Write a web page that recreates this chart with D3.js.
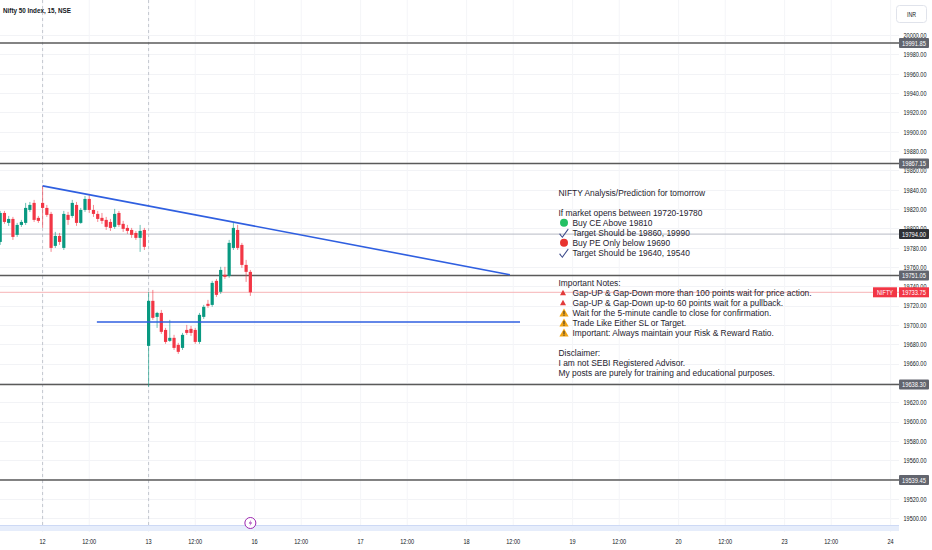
<!DOCTYPE html>
<html>
<head>
<meta charset="utf-8">
<script src="https://cdn.jsdelivr.net/npm/d3@7"></script>
<style>
  body { margin: 0; background: #fff; }
  svg { display: block; font-family: "Liberation Sans", Arial, sans-serif; }
</style>
</head>
<body>
<svg id="chart" width="932" height="550"></svg>
<script>
// candles as [open, high, low, close], 15 min bars
const day11 = [
  [19785.9, 19818.0, 19782.8, 19815.9],
  [19815.9, 19818.0, 19804.6, 19806.6],
  [19805.6, 19812.8, 19802.5, 19809.7],
  [19809.7, 19811.8, 19788.0, 19791.1],
  [19793.2, 19805.6, 19791.1, 19803.5],
  [19803.5, 19808.7, 19801.5, 19806.6],
  [19805.6, 19826.3, 19803.5, 19821.1],
  [19819.0, 19827.3, 19817.0, 19824.2],
  [19826.3, 19829.4, 19806.6, 19808.7],
  [19810.8, 19812.8, 19805.6, 19807.7]
]
const day12 = [
  [19826.3, 19843.9, 19800.4, 19821.1],
  [19821.1, 19824.2, 19811.8, 19813.9],
  [19814.9, 19817.0, 19775.6, 19779.7],
  [19781.8, 19796.3, 19779.7, 19792.1],
  [19792.1, 19795.2, 19782.8, 19785.9],
  [19779.7, 19818.0, 19777.6, 19814.9],
  [19813.9, 19817.0, 19803.5, 19808.7],
  [19812.8, 19829.4, 19810.8, 19826.3],
  [19824.2, 19827.3, 19802.5, 19805.6],
  [19805.6, 19821.1, 19804.6, 19819.0],
  [19819.0, 19833.5, 19817.0, 19830.4],
  [19830.4, 19835.6, 19815.9, 19819.0],
  [19819.0, 19824.2, 19811.8, 19814.9],
  [19814.9, 19818.0, 19806.6, 19809.7],
  [19810.8, 19815.9, 19804.6, 19807.7],
  [19808.7, 19811.8, 19798.3, 19801.5],
  [19806.6, 19809.7, 19797.3, 19800.4],
  [19801.5, 19820.1, 19799.4, 19814.9],
  [19815.9, 19818.0, 19801.5, 19803.5],
  [19804.6, 19807.7, 19796.3, 19799.4],
  [19800.4, 19803.5, 19794.2, 19797.3],
  [19798.3, 19800.4, 19790.1, 19793.2],
  [19795.2, 19797.3, 19788.0, 19790.1],
  [19790.1, 19803.5, 19775.6, 19797.3],
  [19798.3, 19800.4, 19777.6, 19780.8]
]
const day13 = [
  [19678.3, 19734.2, 19635.9, 19724.9],
  [19724.9, 19736.2, 19705.2, 19707.3],
  [19708.3, 19713.5, 19696.9, 19712.4],
  [19712.4, 19715.5, 19690.7, 19692.8],
  [19694.8, 19696.9, 19680.4, 19682.4],
  [19683.5, 19705.2, 19682.4, 19686.6],
  [19686.6, 19689.7, 19674.1, 19676.2],
  [19679.3, 19681.4, 19670.0, 19672.1],
  [19676.2, 19691.7, 19674.1, 19689.7],
  [19694.8, 19700.0, 19689.7, 19691.7],
  [19695.9, 19699.0, 19688.6, 19691.7],
  [19694.8, 19696.9, 19680.4, 19682.4],
  [19682.4, 19712.4, 19680.4, 19710.4],
  [19708.3, 19720.7, 19706.2, 19718.7],
  [19721.8, 19725.9, 19717.6, 19719.7],
  [19720.7, 19745.6, 19718.7, 19743.5],
  [19745.6, 19747.6, 19729.0, 19731.1],
  [19734.2, 19760.1, 19732.1, 19756.9],
  [19751.8, 19760.1, 19747.6, 19749.7],
  [19750.7, 19788.0, 19748.7, 19784.9],
  [19779.7, 19805.6, 19777.6, 19800.4],
  [19798.3, 19803.5, 19777.6, 19779.7],
  [19782.8, 19784.9, 19759.0, 19762.1],
  [19762.1, 19767.3, 19744.5, 19754.9],
  [19754.9, 19756.9, 19730.0, 19733.75]
]

const dayLabels = ['12', '13', '16', '17', '18', '19', '20', '23', '24']
const barsPerDay = 25
const noonBar = 11

const levelPrices = [19991.85, 19867.15, 19751.05, 19638.30, 19539.45]
const refLevel = 19794.00
const lastPrice = 19733.75

// drawings: [bar index, price]
const trendLine = [[0, 19843.9], [110.2, 19752.0]]
const supportLine = [[12.8, 19703.0], [112.6, 19703.0]]

const notes = [
  { icon: null, text: 'NIFTY Analysis/Prediction for tomorrow' },
  null,
  { icon: null, text: 'If market opens between 19720-19780' },
  { icon: 'green', text: 'Buy CE Above 19810' },
  { icon: 'check', text: 'Target Should be 19860, 19990' },
  { icon: 'red', text: 'Buy PE Only below 19690' },
  { icon: 'check', text: 'Target Should be 19640, 19540' },
  null,
  null,
  { icon: null, text: 'Important Notes:' },
  { icon: 'tri', text: 'Gap-UP & Gap-Down more than 100 points wait for price action.' },
  { icon: 'tri', text: 'Gap-UP & Gap-Down up-to 60 points wait for a pullback.' },
  { icon: 'warn', text: 'Wait for the 5-minute candle to close for confirmation.' },
  { icon: 'warn', text: 'Trade Like Either SL or Target.' },
  { icon: 'warn', text: 'Important: Always maintain your Risk & Reward Ratio.' },
  null,
  { icon: null, text: 'Disclaimer:' },
  { icon: null, text: 'I am not SEBI Registered Advisor.' },
  { icon: null, text: 'My posts are purely for training and educational purposes.' }
]

const W = 932, H = 550
const plotRight = 899
const upColor = '#089981', downColor = '#f23645'

const candles = [...day11, ...day12, ...day13].map((d, i) => ({
  idx: i - day11.length, o: d[0], h: d[1], l: d[2], c: d[3]
}))

const x = d3.scaleLinear().domain([-10, 200]).range([0.2, 890.6])
const y = d3.scaleLinear().domain([19500, 20000]).range([518.1, 35.1])

const svg = d3.select('#chart')
svg.append('rect').attr('width', W).attr('height', H).attr('fill', '#fff')

// horizontal grid
const yTicks = d3.range(19500, 20001, 20)
svg.append('g')
  .selectAll('line')
  .data(yTicks)
  .enter()
  .append('line')
  .attr('x1', 0).attr('x2', plotRight)
  .attr('y1', d => Math.round(y(d)) + 0.5).attr('y2', d => Math.round(y(d)) + 0.5)
  .attr('stroke', '#f2f3f6')

// x ticks: days and 12:00
const xTicks = []
dayLabels.forEach((lab, k) => {
  xTicks.push({ idx: k * barsPerDay, label: lab })
  if (k < dayLabels.length - 1) xTicks.push({ idx: k * barsPerDay + noonBar, label: '12:00' })
})

svg.append('g')
  .selectAll('line')
  .data(xTicks)
  .enter()
  .append('line')
  .attr('x1', d => x(d.idx)).attr('x2', d => x(d.idx))
  .attr('y1', 0).attr('y2', 532)
  .attr('stroke', '#f4f5f8')

// session breaks
svg.append('g')
  .selectAll('line')
  .data([0, barsPerDay])
  .enter()
  .append('line')
  .attr('x1', d => x(d)).attr('x2', d => x(d))
  .attr('y1', 0).attr('y2', 532)
  .attr('stroke', '#c3c6ce')
  .attr('stroke-dasharray', '3,3')

// bottom event band
svg.append('rect')
  .attr('x', 0).attr('y', 525).attr('width', plotRight).attr('height', 6)
  .attr('fill', '#e6edfb')
svg.append('line')
  .attr('x1', 0).attr('x2', plotRight).attr('y1', 525.5).attr('y2', 525.5)
  .attr('stroke', '#cdd9f5')

// reference level (thin) and current price line
svg.append('line')
  .attr('x1', 0).attr('x2', plotRight)
  .attr('y1', y(refLevel)).attr('y2', y(refLevel))
  .attr('stroke', '#b8bbc4').attr('stroke-width', 1)
svg.append('line')
  .attr('x1', 0).attr('x2', plotRight)
  .attr('y1', y(lastPrice)).attr('y2', y(lastPrice))
  .attr('stroke', '#f7b3b6').attr('stroke-width', 1)

// key levels
svg.append('g')
  .selectAll('line')
  .data(levelPrices)
  .enter()
  .append('line')
  .attr('x1', 0).attr('x2', plotRight)
  .attr('y1', d => y(d)).attr('y2', d => y(d))
  .attr('stroke', '#5a5a5a').attr('stroke-width', 1.5)

// candles
const cg = svg.append('g')
cg.selectAll('line')
  .data(candles)
  .enter()
  .append('line')
  .attr('x1', d => x(d.idx)).attr('x2', d => x(d.idx))
  .attr('y1', d => y(d.h)).attr('y2', d => y(d.l))
  .attr('stroke', d => d.c >= d.o ? upColor : downColor)
  .attr('stroke-opacity', 0.75)
  .attr('stroke-width', 0.8)
cg.selectAll('rect')
  .data(candles)
  .enter()
  .append('rect')
  .attr('x', d => x(d.idx) - 1.6)
  .attr('width', 3.2)
  .attr('y', d => y(Math.max(d.o, d.c)))
  .attr('height', d => Math.max(1, Math.abs(y(d.o) - y(d.c))))
  .attr('fill', d => d.c >= d.o ? upColor : downColor)

// drawings
const line = d3.line().x(d => x(d[0])).y(d => y(d[1]))
svg.append('path').attr('d', line(trendLine))
  .attr('fill', 'none').attr('stroke', '#2f5fe0').attr('stroke-width', 1.6)
svg.append('path').attr('d', line(supportLine))
  .attr('fill', 'none').attr('stroke', '#2f5fe0').attr('stroke-width', 1.6)

// event marker
const ev = svg.append('g').attr('transform', `translate(${x(49)},523)`)
ev.append('circle').attr('r', 5.5).attr('fill', '#fff').attr('stroke', '#9c27b0').attr('stroke-width', 1)
ev.append('path').attr('d', 'M1,-3.5 L-1.6,0.4 L0.4,0.4 L-1,3.5 L1.8,-0.6 L-0.2,-0.6 Z')
  .attr('fill', '#9c27b0')

// right price axis (labels squeezed like the narrow UI font)
const yAxis = d3.axisRight(y).tickValues(yTicks).tickSize(0).tickPadding(0)
  .tickFormat(d3.format('.2f'))
const ya = svg.append('g').attr('transform', 'translate(903.5,0)').call(yAxis)
ya.select('.domain').remove()
ya.selectAll('text')
  .attr('x', 0)
  .attr('transform', 'scale(0.735,1)')
  .attr('font-size', 7.5).attr('fill', '#131722')
  .attr('font-family', '"Liberation Sans", Arial, sans-serif')

// level tags
const tags = levelPrices.map(p => ({ p, fill: '#62656e' }))
tags.push({ p: refLevel, fill: '#2f3136' })
const tg = svg.append('g')
  .selectAll('g')
  .data(tags)
  .enter()
  .append('g')
  .attr('transform', d => `translate(899,${y(d.p)})`)
tg.append('rect').attr('x', 0).attr('y', -5).attr('width', 30).attr('height', 10).attr('rx', 1)
  .attr('fill', d => d.fill)
tg.append('text')
  .attr('transform', 'translate(15,2.6) scale(0.767,1)')
  .attr('text-anchor', 'middle')
  .attr('font-size', 7.5).attr('fill', '#fff')
  .text(d => d3.format('.2f')(d.p))

// current price tag
const cp = svg.append('g').attr('transform', `translate(0,${y(lastPrice)})`)
cp.append('rect').attr('x', 873).attr('y', -5).attr('width', 24).attr('height', 10).attr('fill', '#f23645')
cp.append('text').attr('transform', 'translate(885,2.6) scale(0.74,1)').attr('text-anchor', 'middle')
  .attr('font-size', 7.5).attr('fill', '#fff')
  .text('NIFTY')
cp.append('rect').attr('x', 899).attr('y', -5).attr('width', 30).attr('height', 10).attr('fill', '#f23645')
cp.append('text').attr('transform', 'translate(914,2.6) scale(0.767,1)').attr('text-anchor', 'middle')
  .attr('font-size', 7.5).attr('fill', '#fff')
  .text(d3.format('.2f')(lastPrice))

// bottom time axis
svg.append('g')
  .selectAll('text')
  .data(xTicks)
  .enter()
  .append('text')
  .attr('transform', d => `translate(${x(d.idx)},544) scale(0.745,1)`)
  .attr('text-anchor', 'middle')
  .attr('font-size', 7.5)
  .attr('fill', '#131722')
  .text(d => d.label)

// currency box
svg.append('rect').attr('x', 896.5).attr('y', 5.5).attr('width', 30).attr('height', 17).attr('rx', 3)
  .attr('fill', '#fff').attr('stroke', '#e0e3eb')
svg.append('text').attr('transform', 'translate(911.5,16.5) scale(0.75,1)').attr('text-anchor', 'middle')
  .attr('font-size', 7).attr('fill', '#131722')
  .text('INR')

// title
svg.append('text').attr('transform', 'translate(3,13) scale(0.79,1)')
  .attr('font-size', 8).attr('font-weight', 'bold').attr('fill', '#131722')
  .text('Nifty 50 Index, 15, NSE')

// note block
const ng = svg.append('g').attr('transform', 'translate(558.5,0)')
notes.forEach((n, k) => {
  if (!n) return
  const cy = 192.7 + k * 10
  const tx = n.icon ? 14 : 0
  ng.append('text')
    .attr('transform', `translate(${tx},${cy + 3.1}) scale(0.935,1)`)
    .attr('font-size', 9)
    .attr('fill', '#1e222d')
    .text(n.text)
  const ic = ng.append('g').attr('transform', `translate(5.5,${cy})`)
  if (n.icon === 'green' || n.icon === 'red') {
    ic.append('circle').attr('r', 4).attr('fill', n.icon === 'green' ? '#22c063' : '#e8322e')
  } else if (n.icon === 'check') {
    ic.append('path').attr('d', 'M-4,0.5 L-1.8,3.8 L4,-4.2 L4.6,-3.2 L-1.6,5.2 L-4.8,1.6 Z')
      .attr('fill', '#3b4889')
  } else if (n.icon === 'tri') {
    ic.append('path').attr('d', 'M-1,-3 L2,2.6 L-4,2.6 Z').attr('fill', '#e23a3a')
  } else if (n.icon === 'warn') {
    ic.append('path').attr('d', 'M0,-4.2 L4.6,3.8 L-4.6,3.8 Z').attr('fill', '#f2a413')
    ic.append('rect').attr('x', -0.5).attr('y', -1.8).attr('width', 1).attr('height', 3.4).attr('fill', '#333')
    ic.append('rect').attr('x', -0.5).attr('y', 2.1).attr('width', 1).attr('height', 1).attr('fill', '#333')
  }
})
</script>
</body>
</html>
